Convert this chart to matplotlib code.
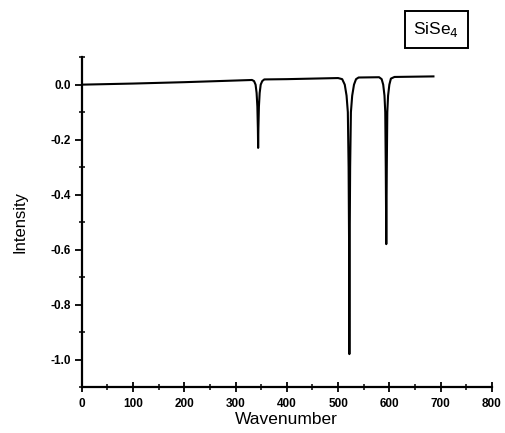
import numpy as np
import matplotlib
matplotlib.use("Agg")
import matplotlib.pyplot as plt
from matplotlib.ticker import MultipleLocator

# spectrum points (wavenumber, intensity)
wavenumber = [0, 100, 200, 300, 332,
              336, 339, 341, 342.5, 343.5, 344, 344.5, 345.5, 347, 349, 352, 356,
              400, 500,
              508, 513, 516.5, 519, 520.5, 521.5, 522, 522.5, 523.5, 525, 527.5, 531, 535, 540,
              580,
              585, 588, 590.5, 592, 593, 594, 595, 596, 597.5, 600, 603, 610,
              686]
intensity = [0.0, 0.004, 0.009, 0.015, 0.017,
             0.013, 0.0, -0.03, -0.08, -0.16, -0.23, -0.16, -0.08, -0.03, 0.0, 0.013, 0.019,
             0.020, 0.024,
             0.020, 0.0, -0.04, -0.10, -0.30, -0.60, -0.98, -0.60, -0.30, -0.10, -0.04, 0.0, 0.020, 0.026,
             0.027,
             0.020, 0.0, -0.04, -0.10, -0.30, -0.58, -0.30, -0.10, -0.04, 0.0, 0.022, 0.028,
             0.030]

xticks = [0, 100, 200, 300, 400, 500, 600, 700, 800]
yticks = [0.0, -0.2, -0.4, -0.6, -0.8, -1.0]
ytick_labels = ["0.0", "-0.2", "-0.4", "-0.6", "-0.8", "-1.0"]

plt.rcParams['font.family'] = ['Liberation Sans', 'DejaVu Sans']

fig = plt.figure(figsize=(5.05, 4.33), dpi=100)
ax = fig.add_axes([0.162, 0.106, 0.812, 0.762])

ax.plot(wavenumber, intensity, color='black', lw=1.5)

ax.set_xlim(0, 800)
ax.set_ylim(-1.1, 0.1)
ax.set_xticks(xticks)
ax.set_yticks(yticks)
ax.set_yticklabels(ytick_labels)
ax.xaxis.set_minor_locator(MultipleLocator(50))
ax.yaxis.set_minor_locator(MultipleLocator(0.1))

for s in ['top', 'right']:
    ax.spines[s].set_visible(False)
for s in ['left', 'bottom']:
    ax.spines[s].set_linewidth(1.6)

ax.tick_params(axis='x', which='major', direction='inout', length=7, width=1.3, pad=4)
ax.tick_params(axis='x', which='minor', direction='inout', length=4, width=1.1)
ax.tick_params(axis='y', which='major', direction='out', length=5, width=1.3, pad=3)
ax.tick_params(axis='y', which='minor', direction='inout', length=4, width=1.1)
for lab in ax.get_xticklabels() + ax.get_yticklabels():
    lab.set_fontsize(8.5)
    lab.set_fontweight('bold')

ax.set_xlabel('Wavenumber', fontsize=12.5, labelpad=2)
ax.set_ylabel('Intensity', fontsize=12, labelpad=16)

fig.text(0.864, 0.932, 'SiSe$_4$', fontsize=12.5, ha='center', va='center',
         bbox=dict(boxstyle='square,pad=0.5', fc='white', ec='black', lw=1.4))

fig.savefig('out.png', dpi=100)
